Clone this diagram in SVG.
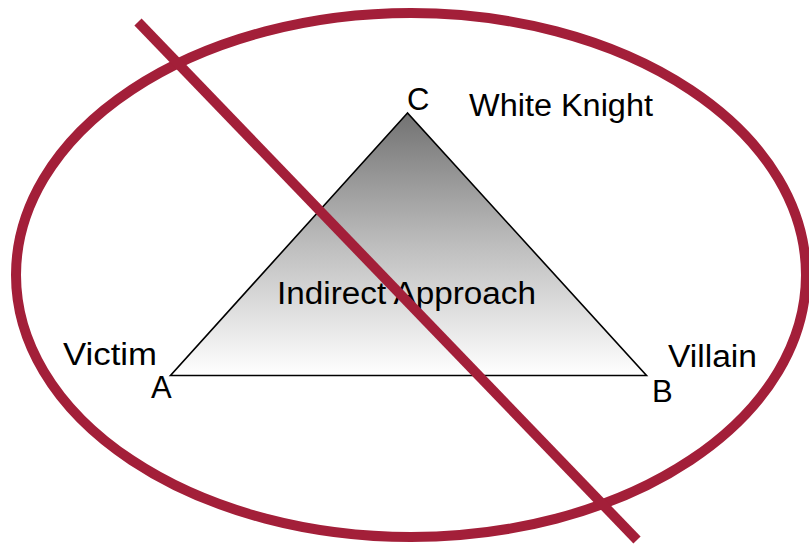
<svg xmlns="http://www.w3.org/2000/svg" width="809" height="546" viewBox="0 0 809 546">
  <defs>
    <linearGradient id="triGrad" x1="0" y1="0" x2="0" y2="1">
      <stop offset="0" stop-color="#727272"/>
      <stop offset="0.5" stop-color="#bdbdbd"/>
      <stop offset="1" stop-color="#ffffff"/>
    </linearGradient>
    <style>
      .lbl { font-family: "Liberation Sans", Arial, sans-serif; font-size: 31px; fill: #000; }
      .ban { fill: none; stroke: #A31F39; stroke-width: 10; }
    </style>
  </defs>
  <rect x="0" y="0" width="809" height="546" fill="#ffffff"/>

  <g id="triangle">
    <polygon points="407.5,113 170.5,375.5 646.5,375.5" fill="url(#triGrad)" stroke="#000" stroke-width="1.6" stroke-linejoin="miter"/>
    <text class="lbl" x="277" y="304" textLength="259" lengthAdjust="spacingAndGlyphs">Indirect Approach</text>
  </g>

  <g id="node-C">
    <text class="lbl" x="407" y="110">C</text>
  </g>
  <g id="label-white-knight">
    <text class="lbl" x="469" y="116" textLength="184" lengthAdjust="spacingAndGlyphs">White Knight</text>
  </g>
  <g id="node-A">
    <text class="lbl" x="151" y="398">A</text>
  </g>
  <g id="label-victim">
    <text class="lbl" x="63" y="365" textLength="94" lengthAdjust="spacingAndGlyphs">Victim</text>
  </g>
  <g id="node-B">
    <text class="lbl" x="652" y="402">B</text>
  </g>
  <g id="label-villain">
    <text class="lbl" x="668" y="367" textLength="89" lengthAdjust="spacingAndGlyphs">Villain</text>
  </g>

  <g id="connectors">
    <ellipse class="ban" cx="411" cy="275" rx="395" ry="262"/>
    <line class="ban" x1="138" y1="22" x2="637" y2="540"/>
  </g>
</svg>
